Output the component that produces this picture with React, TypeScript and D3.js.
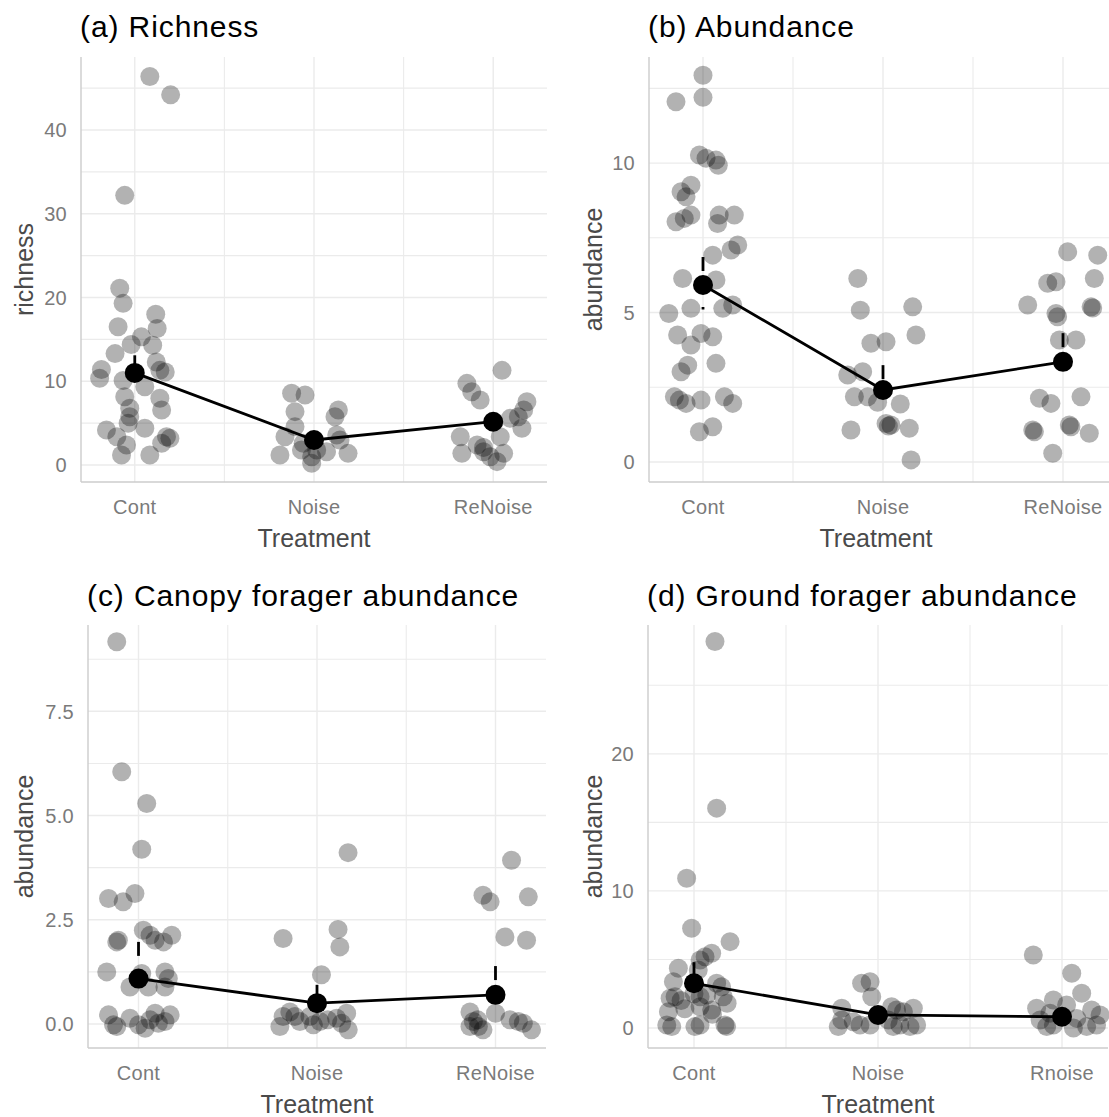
import React from "react";
import * as d3 from "d3";

// ---------- DATA ----------
const catsABC = ["Cont", "Noise", "ReNoise"];
const catsD = ["Cont", "Noise", "Rnoise"];

// (a) richness: raw values per treatment and their horizontal jitter (category units)
const richnessValues = [
  [46.4, 44.2, 32.2, 21.1, 19.3, 18.0, 16.3, 16.5, 15.3, 14.4, 14.3, 13.3, 12.3, 11.4, 10.35, 11.3, 11.1, 10.1, 9.35, 7.96, 8.16, 6.77, 6.57, 5.77, 4.98, 4.18, 4.38, 3.38, 3.38, 3.18, 2.59, 2.39, 1.19, 1.19],
  [8.56, 8.36, 6.37, 6.57, 5.77, 4.58, 3.38, 3.58, 2.99, 1.19, 1.79, 1.39, 0.99, 1.79, 1.59, 0.2, 2.6],
  [11.3, 9.75, 8.75, 7.76, 7.56, 6.57, 5.77, 5.57, 4.38, 3.38, 3.38, 1.39, 2.39, 1.59, 0.99, 1.39, 0.4, 2.1],
];
const richnessJitter = [
  [0.084, 0.2, -0.056, -0.084, -0.065, 0.117, 0.125, -0.093, 0.037, -0.02, 0.1, -0.11, 0.12, -0.186, -0.196, 0.14, 0.17, -0.065, 0.056, 0.14, -0.056, -0.028, 0.15, -0.028, -0.037, -0.158, 0.056, -0.1, 0.177, 0.196, 0.15, -0.046, -0.074, 0.084],
  [-0.125, -0.05, -0.106, 0.136, 0.117, -0.106, -0.162, 0.127, 0.145, -0.19, -0.07, 0.19, -0.013, 0.015, 0.07, -0.013, -0.06],
  [0.049, -0.147, -0.12, -0.073, 0.188, 0.17, 0.14, 0.095, 0.16, -0.184, 0.039, -0.175, -0.09, -0.054, -0.017, 0.058, 0.021, -0.054],
];
const richnessMean = [11.0, 2.99, 5.17];
const richnessUpper = [13.1, 3.6, 5.8];
const richnessLower = [8.9, 2.4, 4.55];

// (b) abundance
const abundanceValues = [
  [12.94, 12.2, 12.05, 10.27, 10.16, 10.1, 9.93, 9.26, 9.04, 8.87, 8.26, 8.15, 8.04, 8.26, 7.98, 8.26, 7.26, 7.09, 6.92, 6.14, 6.09, 4.97, 5.14, 5.14, 5.25, 4.25, 4.3, 4.19, 3.91, 3.24, 3.02, 3.3, 2.18, 2.07, 1.96, 2.07, 2.18, 1.96, 1.01, 1.18],
  [6.14, 5.08, 5.19, 4.25, 3.97, 4.02, 2.91, 3.02, 2.18, 2.18, 1.94, 1.07, 1.29, 1.24, 1.13, 0.07, 2.0, 1.2],
  [7.03, 6.92, 6.14, 5.98, 6.03, 5.25, 4.97, 4.86, 5.19, 5.15, 4.08, 4.08, 2.13, 1.96, 2.18, 1.07, 1.01, 1.24, 1.18, 0.96, 0.29],
];
const abundanceJitter = [
  [0.0, 0.0, -0.15, -0.02, 0.017, 0.072, 0.085, -0.067, -0.122, -0.094, -0.067, -0.104, -0.15, 0.09, 0.081, 0.174, 0.193, 0.156, 0.054, -0.113, 0.072, -0.19, -0.067, 0.11, 0.165, -0.141, -0.011, 0.054, -0.067, -0.085, -0.122, 0.072, -0.159, -0.131, -0.094, -0.011, 0.119, 0.165, -0.02, 0.054],
  [-0.14, -0.126, 0.165, 0.183, -0.067, 0.017, -0.196, -0.113, -0.159, -0.085, 0.096, -0.178, 0.017, 0.044, 0.146, 0.156, -0.03, 0.03],
  [0.026, 0.193, 0.174, -0.085, -0.039, -0.196, -0.039, -0.03, 0.156, 0.165, -0.02, 0.072, -0.131, -0.067, 0.1, -0.168, -0.159, 0.035, 0.044, 0.146, -0.057],
];
const abundanceMean = [5.92, 2.41, 3.35];
const abundanceUpper = [6.86, 3.24, 4.31];
const abundanceLower = [5.1, 1.58, 2.75];

// (c) canopy forager abundance
const canopyValues = [
  [9.17, 6.05, 5.29, 4.19, 3.01, 2.93, 3.13, 1.97, 2.01, 2.25, 2.13, 2.01, 1.97, 2.13, 1.25, 0.89, 1.21, 0.89, 1.25, 1.09, 0.89, 0.22, -0.02, -0.06, 0.14, -0.02, 0.1, 0.26, 0.02, 0.06, 0.22, -0.1],
  [4.11, 2.05, 2.27, 1.85, 1.18, 0.18, 0.29, 0.18, 0.06, -0.06, 0.18, 0.06, 0.14, 0.26, 0.02, -0.14, -0.02, 0.1],
  [3.93, 3.09, 2.93, 3.05, 2.09, 2.01, 0.29, 0.06, -0.06, -0.06, 0.26, 0.1, 0.06, 0.02, -0.14, -0.14, 0.1],
];
const canopyJitter = [
  [-0.122, -0.094, 0.046, 0.018, -0.168, -0.086, -0.02, -0.122, -0.113, 0.027, 0.065, 0.093, 0.14, 0.186, -0.178, -0.048, 0.018, 0.055, 0.148, 0.167, 0.148, -0.168, -0.14, -0.122, -0.048, 0.0, 0.065, 0.093, 0.111, 0.148, 0.177, 0.037],
  [0.174, -0.19, 0.118, 0.128, 0.025, -0.19, -0.152, -0.124, -0.096, -0.208, -0.04, 0.017, 0.11, 0.166, 0.138, 0.175, -0.02, 0.06],
  [0.09, -0.07, -0.03, 0.184, 0.053, 0.174, -0.143, -0.124, -0.096, -0.143, 0.0, 0.081, 0.128, 0.156, 0.202, -0.07, -0.1],
];
const canopyMean = [1.09, 0.5, 0.7];
const canopyUpper = [1.97, 0.94, 1.39];
const canopyLower = [0.9, 0.35, 0.5];

// (d) ground forager abundance
const groundValues = [
  [28.2, 16.04, 10.93, 7.28, 6.3, 5.45, 5.2, 4.96, 4.36, 4.23, 3.38, 2.17, 2.28, 2.28, 2.41, 3.26, 2.28, 1.19, 1.31, 1.55, 0.22, 0.1, 0.1, 0.22, 0.22, 0.1, 2.0, 3.0, 1.8, 2.5, 1.4, 1.0],
  [3.26, 3.38, 2.28, 1.44, 0.58, 0.45, 0.22, 1.55, 1.31, 1.19, 1.44, 0.58, 0.22, 0.1, 0.22, 0.1, 0.22, 0.1],
  [5.33, 3.99, 2.53, 2.04, 1.44, 1.68, 1.31, 0.95, 0.58, 0.1, 0.7, 0.1, 0.22, 0.22, 0.0, 1.08],
];
const groundJitter = [
  [0.114, 0.123, -0.04, -0.013, 0.196, 0.096, 0.06, 0.033, -0.085, 0.023, -0.112, -0.13, -0.103, 0.033, 0.069, 0.123, 0.159, -0.139, 0.096, 0.033, -0.148, -0.121, 0.005, 0.033, 0.168, 0.177, -0.07, 0.15, 0.18, 0.0, -0.05, 0.1],
  [-0.089, -0.043, -0.034, -0.197, -0.197, -0.134, -0.098, 0.074, 0.101, 0.138, 0.192, 0.056, 0.119, 0.174, 0.21, -0.216, -0.043, 0.083],
  [-0.156, 0.053, 0.107, -0.047, -0.138, 0.025, 0.161, 0.207, -0.119, -0.083, 0.08, 0.134, 0.188, -0.047, 0.062, -0.065],
];
const groundMean = [3.26, 0.95, 0.82];
const groundUpper = [4.8, 1.3, 1.15];
const groundLower = [2.5, 0.6, 0.5];

// axis ticks
const richnessTicks = [0, 10, 20, 30, 40];
const richnessMinor = [5, 15, 25, 35, 45];
const abundanceTicks = [0, 5, 10];
const abundanceMinor = [2.5, 7.5, 12.5];
const canopyTicks = [0, 2.5, 5, 7.5];
const canopyMinor = [1.25, 3.75, 6.25, 8.75];
const groundTicks = [0, 10, 20];
const groundMinor = [5, 15, 25];

// ---------- LAYOUT ----------
const W = 1109;
const H = 1117;
const FONT = "'Liberation Sans', Arial, Helvetica, sans-serif";

type Panel = {
  title: string;
  ylab: string;
  cats: string[];
  values: number[][];
  jitter: number[][];
  mean: number[];
  upper: number[];
  lower: number[];
  ticks: number[];
  minor: number[];
  fmt: (v: number) => string;
  yDomain: [number, number];
  box: { left: number; right: number; top: number; bottom: number };
  pad: number;
  titleY: number;
  ylabX: number;
};

const panels: Panel[] = [
  {
    title: "(a) Richness", ylab: "richness", cats: catsABC,
    values: richnessValues, jitter: richnessJitter, mean: richnessMean, upper: richnessUpper, lower: richnessLower,
    ticks: richnessTicks, minor: richnessMinor, fmt: d3.format("d"), yDomain: [-2.03, 48.72],
    box: { left: 81, right: 547, top: 57, bottom: 482 }, pad: 0.3, titleY: 37, ylabX: 33,
  },
  {
    title: "(b) Abundance", ylab: "abundance", cats: catsABC,
    values: abundanceValues, jitter: abundanceJitter, mean: abundanceMean, upper: abundanceUpper, lower: abundanceLower,
    ticks: abundanceTicks, minor: abundanceMinor, fmt: d3.format("d"), yDomain: [-0.67, 13.55],
    box: { left: 649, right: 1117, top: 57, bottom: 482 }, pad: 0.3, titleY: 37, ylabX: 602,
  },
  {
    title: "(c) Canopy forager abundance", ylab: "abundance", cats: catsABC,
    values: canopyValues, jitter: canopyJitter, mean: canopyMean, upper: canopyUpper, lower: canopyLower,
    ticks: canopyTicks, minor: canopyMinor, fmt: d3.format(".1f"), yDomain: [-0.575, 9.57],
    box: { left: 88, right: 546, top: 625, bottom: 1048 }, pad: 0.283, titleY: 606, ylabX: 33,
  },
  {
    title: "(d) Ground forager abundance", ylab: "abundance", cats: catsD,
    values: groundValues, jitter: groundJitter, mean: groundMean, upper: groundUpper, lower: groundLower,
    ticks: groundTicks, minor: groundMinor, fmt: d3.format("d"), yDomain: [-1.46, 29.4],
    box: { left: 648, right: 1108, top: 625, bottom: 1048 }, pad: 0.25, titleY: 606, ylabX: 602,
  },
];

function PanelView({ p }: { p: Panel }) {
  const { left, right, top, bottom } = p.box;
  const x = d3.scaleLinear().domain([1 - p.pad, 3 + p.pad]).range([left, right]);
  const y = d3.scaleLinear().domain(p.yDomain).range([bottom, top]);
  const catIdx = p.cats.map((_, i) => i + 1);
  const minorX = [1.5, 2.5];
  const line = d3
    .line<number>()
    .x((_, i) => x(i + 1))
    .y((d) => y(d));
  const grid = "#ebebeb";
  return (
    <g>
      {/* grid */}
      {p.minor.map((v) => (
        <line key={"my" + v} x1={left} x2={right} y1={y(v)} y2={y(v)} stroke={grid} strokeWidth={1.1} />
      ))}
      {p.ticks.map((v) => (
        <line key={"y" + v} x1={left} x2={right} y1={y(v)} y2={y(v)} stroke={grid} strokeWidth={1.4} />
      ))}
      {minorX.map((v) => (
        <line key={"mx" + v} x1={x(v)} x2={x(v)} y1={top} y2={bottom} stroke={grid} strokeWidth={1.1} />
      ))}
      {catIdx.map((v) => (
        <line key={"x" + v} x1={x(v)} x2={x(v)} y1={top} y2={bottom} stroke={grid} strokeWidth={1.4} />
      ))}
      {/* axis lines */}
      <line x1={left} x2={left} y1={top} y2={bottom} stroke="#cccccc" strokeWidth={1.4} />
      <line x1={left} x2={right} y1={bottom} y2={bottom} stroke="#cccccc" strokeWidth={1.4} />
      {/* raw points */}
      {p.values.map((arr, ci) =>
        arr.map((v, k) => (
          <circle key={ci + "-" + k} cx={x(ci + 1 + p.jitter[ci][k])} cy={y(v)} r={9.5} fill="#000" fillOpacity={0.3} />
        ))
      )}
      {/* error bars */}
      {p.mean.map((m, i) => (
        <line
          key={"e" + i}
          x1={x(i + 1)}
          x2={x(i + 1)}
          y1={y(p.upper[i])}
          y2={y(p.lower[i])}
          stroke="#000"
          strokeWidth={2.8}
          strokeDasharray="14,36"
        />
      ))}
      {/* mean line */}
      <path d={line(p.mean) || ""} fill="none" stroke="#000" strokeWidth={2.8} />
      {p.mean.map((m, i) => (
        <circle key={"m" + i} cx={x(i + 1)} cy={y(m)} r={10} fill="#000" />
      ))}
      {/* y tick labels */}
      {p.ticks.map((v) => (
        <text key={"yt" + v} x={left - 14} y={y(v)} dy="0.36em" textAnchor="end" fontSize={20} fill="#7a7a7a" letterSpacing={0.3}>
          {p.fmt(v)}
        </text>
      ))}
      {/* x tick labels */}
      {p.cats.map((c, i) => (
        <text key={"xt" + c} x={x(i + 1)} y={bottom + 32} textAnchor="middle" fontSize={20} fill="#7a7a7a" letterSpacing={0.3}>
          {c}
        </text>
      ))}
      {/* axis titles */}
      <text x={(left + Math.min(right, W)) / 2 + (p.box.right > W ? -3 : 0)} y={bottom + 65} textAnchor="middle" fontSize={25} fill="#4a4a4a">
        Treatment
      </text>
      <text transform={`translate(${p.ylabX},${(top + bottom) / 2}) rotate(-90)`} textAnchor="middle" fontSize={25} fill="#4a4a4a">
        {p.ylab}
      </text>
      {/* title */}
      <text x={left - 1} y={p.titleY} fontSize={30} fill="#000" letterSpacing={0.9}>
        {p.title}
      </text>
    </g>
  );
}

export default function App() {
  return (
    <svg width={W} height={H} style={{ position: "absolute", left: 0, top: 0, background: "#fff" }} fontFamily={FONT}>
      <rect width={W} height={H} fill="#fff" />
      {panels.map((p) => (
        <PanelView key={p.title} p={p} />
      ))}
    </svg>
  );
}
